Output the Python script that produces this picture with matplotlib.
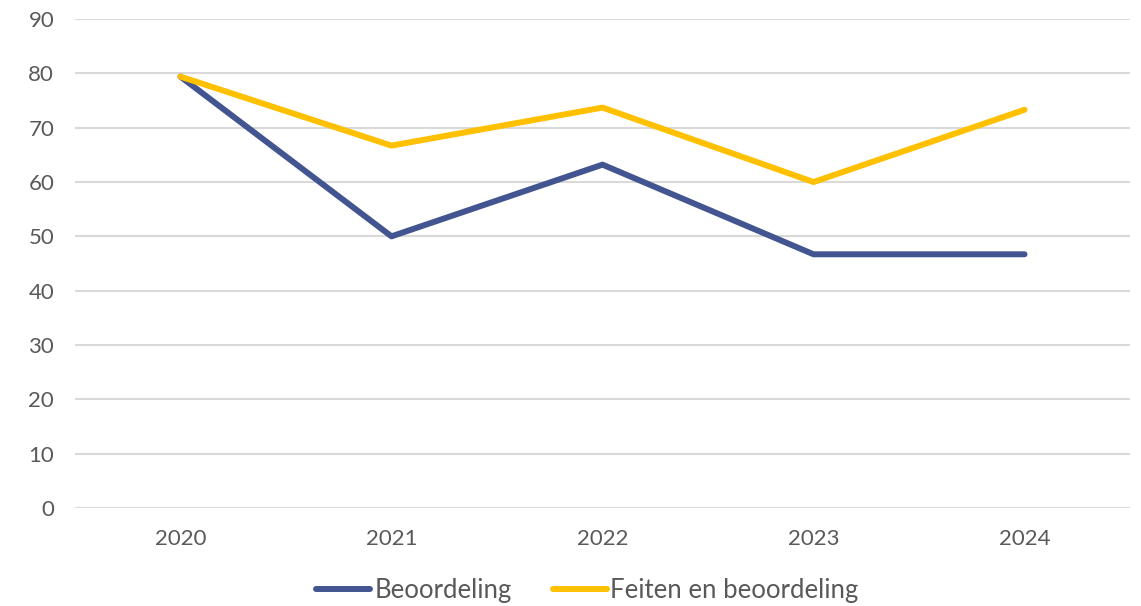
import matplotlib.pyplot as plt

years = ['2020', '2021', '2022', '2023', '2024']
beoordeling = [79.4, 50.0, 63.2, 46.7, 46.7]
feiten_en_beoordeling = [79.4, 66.7, 73.7, 60.0, 73.3]

plt.rcParams['font.family'] = ['Lato', 'DejaVu Sans']

fig = plt.figure(figsize=(11.41, 6.06), dpi=100)
ax = fig.add_axes([0.0657, 0.1617, 0.9247, 0.8069])

x = range(len(years))
ax.plot(x, beoordeling, color='#435591', lw=4.3, solid_capstyle='round',
        solid_joinstyle='round', label='Beoordeling', zorder=3)
ax.plot(x, feiten_en_beoordeling, color='#FFC000', lw=4.3, solid_capstyle='round',
        solid_joinstyle='round', label='Feiten en beoordeling', zorder=3)

ax.set_xlim(-0.5, len(years) - 0.5)
ax.set_ylim(0, 90)
ax.set_yticks(range(0, 91, 10))
ax.set_xticks(list(x))
ax.set_xticklabels(years)
ax.grid(axis='y', color='#D9D9D9', lw=1.5)
ax.set_axisbelow(True)
for s in ax.spines.values():
    s.set_visible(False)
ax.tick_params(length=0, labelsize=16, colors='#595959')
ax.tick_params(axis='y', pad=15)
ax.tick_params(axis='x', pad=15)

fig.legend(loc='center', bbox_to_anchor=(0.515, 0.025), ncol=2, frameon=False,
           fontsize=18.5, labelcolor='#595959', handlelength=2.1,
           handletextpad=0.15, columnspacing=1.6)

fig.savefig('out.png', dpi=100)
